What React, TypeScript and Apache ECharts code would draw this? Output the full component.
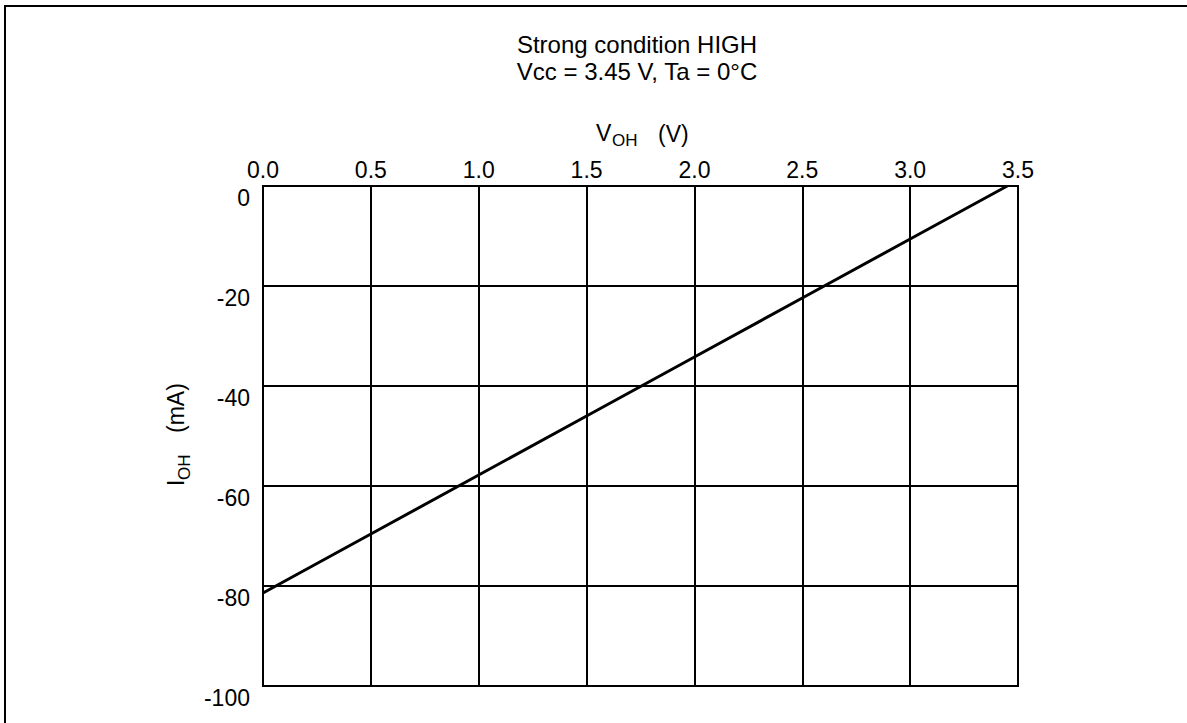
import React, { useEffect, useRef } from "react";
import * as echarts from "echarts";

// Data
const titleLines = ["Strong condition HIGH", "Vcc = 3.45 V, Ta = 0°C"];
const vohValues = [0, 0.5, 1.0, 1.5, 2.0, 2.5, 3.0, 3.45]; // V_OH (V)
const iohValues = [-81.4, -69.6, -57.8, -46.0, -34.2, -22.4, -10.6, 0]; // I_OH (mA)
const xTicks = { min: 0, max: 3.5, interval: 0.5 };
const yTicks = { min: -100, max: 0, interval: 20 };

const FONT = "Liberation Sans, Arial, sans-serif";

export default function App() {
  const ref = useRef<HTMLDivElement>(null);

  useEffect(() => {
    if (!ref.current) return;
    const chart = echarts.init(ref.current, undefined, { renderer: "svg" });
    const seriesData = vohValues.map((v, i) => [v, iohValues[i]]);

    chart.setOption({
      animation: false,
      backgroundColor: "#fff",
      textStyle: { fontFamily: FONT },
      grid: {
        left: 263,
        top: 186,
        right: 169,
        bottom: 37,
        show: true,
        borderColor: "#000",
        borderWidth: 2,
        backgroundColor: "transparent",
      },
      xAxis: {
        type: "value",
        position: "top",
        min: xTicks.min,
        max: xTicks.max,
        interval: xTicks.interval,
        axisLine: { show: true, lineStyle: { color: "#000", width: 2 } },
        axisTick: { show: false },
        splitLine: { show: true, lineStyle: { color: "#000", width: 2 } },
        axisLabel: {
          color: "#000",
          fontSize: 23,
          fontFamily: FONT,
          margin: 5,
          formatter: (v: number) => v.toFixed(1),
        },
      },
      yAxis: {
        type: "value",
        min: yTicks.min,
        max: yTicks.max,
        interval: yTicks.interval,
        axisLine: { show: true, lineStyle: { color: "#000", width: 2 } },
        axisTick: { show: false },
        splitLine: { show: true, lineStyle: { color: "#000", width: 2 } },
        axisLabel: {
          color: "#000",
          fontSize: 23,
          fontFamily: FONT,
          margin: 13,
          verticalAlign: "top",
          formatter: (v: number) => String(v),
        },
      },
      series: [
        {
          type: "line",
          data: seriesData,
          showSymbol: false,
          symbol: "none",
          lineStyle: { color: "#000", width: 3 },
          z: 10,
        },
      ],
      graphic: [
        {
          type: "rect",
          shape: { x: 5, y: 6, width: 1220, height: 760 },
          style: { fill: "none", stroke: "#000", lineWidth: 2 },
          silent: true,
        },
        {
          type: "text",
          x: 637,
          y: 44,
          style: {
            text: titleLines[0],
            fontSize: 24,
            fontFamily: FONT,
            fill: "#000",
            align: "center",
            verticalAlign: "middle",
          },
        },
        {
          type: "text",
          x: 637,
          y: 71,
          style: {
            text: titleLines[1],
            fontSize: 24,
            fontFamily: FONT,
            fill: "#000",
            align: "center",
            verticalAlign: "middle",
          },
        },
        // X axis name: V_OH (V)
        {
          type: "text",
          x: 596,
          y: 133,
          style: { text: "V", fontSize: 23, fontFamily: FONT, fill: "#000", align: "left", verticalAlign: "middle" },
        },
        {
          type: "text",
          x: 612,
          y: 140,
          style: { text: "OH", fontSize: 17, fontFamily: FONT, fill: "#000", align: "left", verticalAlign: "middle" },
        },
        {
          type: "text",
          x: 658,
          y: 134,
          style: { text: "(V)", fontSize: 23, fontFamily: FONT, fill: "#000", align: "left", verticalAlign: "middle" },
        },
        // Y axis name: I_OH (mA), rotated
        {
          type: "group",
          x: 176,
          y: 436,
          rotation: Math.PI / 2,
          children: [
            {
              type: "text",
              x: -50,
              y: 0,
              style: { text: "I", fontSize: 23, fontFamily: FONT, fill: "#000", align: "left", verticalAlign: "middle" },
            },
            {
              type: "text",
              x: -44,
              y: 8,
              style: { text: "OH", fontSize: 17, fontFamily: FONT, fill: "#000", align: "left", verticalAlign: "middle" },
            },
            {
              type: "text",
              x: 3,
              y: 0,
              style: { text: "(mA)", fontSize: 23, fontFamily: FONT, fill: "#000", align: "left", verticalAlign: "middle" },
            },
          ],
        },
      ],
    });

    return () => chart.dispose();
  }, []);

  return (
    <div
      ref={ref}
      style={{ position: "fixed", left: 0, top: 0, width: 1187, height: 723, background: "#fff" }}
    />
  );
}
